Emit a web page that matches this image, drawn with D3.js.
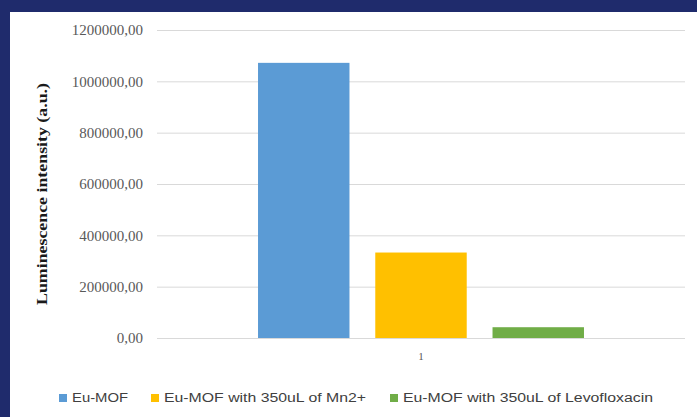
<!DOCTYPE html>
<html>
<head>
<meta charset="utf-8">
<script src="https://cdn.jsdelivr.net/npm/d3@7"></script>
<style>
  html, body { margin: 0; padding: 0; background: #ffffff; }
  svg { display: block; }
</style>
</head>
<body>
<svg id="chart" width="697" height="417"></svg>
<script>
// Luminescence of Eu-MOF alone and after adding Mn2+ / Levofloxacin
const categories = ["1"];
const seriesNames = [
  "Eu-MOF",
  "Eu-MOF with 350uL of Mn2+",
  "Eu-MOF with 350uL of Levofloxacin"
];
const seriesValues = [1072000, 333000, 42000];
const seriesColors = ["#5b9bd5", "#ffc000", "#70ad47"];
const yTicks = [0, 200000, 400000, 600000, 800000, 1000000, 1200000];
const yTickLabels = ["0,00", "200000,00", "400000,00", "600000,00", "800000,00", "1000000,00", "1200000,00"];
const yTitle = "Luminescence intensity (a.u.)";

const W = 697, H = 417;
const svg = d3.select("#chart");

// navy frame along the top and left edges
svg.append("rect").attr("x", 0).attr("y", 0).attr("width", W).attr("height", H).attr("fill", "#1f2b6c");
svg.append("rect").attr("x", 10).attr("y", 12).attr("width", W - 10).attr("height", H - 12).attr("fill", "#ffffff");

const plot = { left: 157, right: 685, top: 30, bottom: 338 };

const y = d3.scaleLinear().domain([0, 1200000]).range([plot.bottom, plot.top]);
const x0 = d3.scaleBand().domain(categories).range([plot.left, plot.right]).padding(0.2366);
const x1 = d3.scaleBand().domain(seriesNames).range([0, x0.bandwidth()]).paddingInner(0.22).paddingOuter(0);

// horizontal gridlines
const yAxis = d3.axisLeft(y)
  .tickValues(yTicks)
  .tickSize(-(plot.right - plot.left))
  .tickPadding(14)
  .tickFormat((d, i) => yTickLabels[i]);

const gy = svg.append("g").attr("transform", `translate(${plot.left},0)`).call(yAxis);
gy.select(".domain").remove();
gy.selectAll(".tick line").attr("stroke", "#d9d9d9").attr("stroke-width", 1);
gy.selectAll(".tick text")
  .attr("fill", "#595959")
  .style("font-family", "'Liberation Serif', 'DejaVu Serif', serif")
  .style("font-size", "15px");

// bars
const groups = svg.append("g").selectAll("g")
  .data(categories)
  .join("g")
  .attr("transform", d => `translate(${x0(d)},0)`);

groups.selectAll("rect")
  .data(() => seriesNames.map((s, i) => ({ name: s, value: seriesValues[i], color: seriesColors[i] })))
  .join("rect")
  .attr("x", d => x1(d.name))
  .attr("width", x1.bandwidth())
  .attr("y", d => y(d.value))
  .attr("height", d => y(0) - y(d.value))
  .attr("fill", d => d.color);

// category axis
const xAxis = d3.axisBottom(x0).tickSize(0).tickPadding(14);
const gx = svg.append("g").attr("transform", `translate(0,${plot.bottom})`).call(xAxis);
gx.select(".domain").remove();
gx.selectAll(".tick text")
  .attr("fill", "#595959")
  .style("font-family", "'Liberation Serif', serif")
  .style("font-size", "11px");

// y-axis title
svg.append("text")
  .attr("transform", `translate(47,${(plot.top + plot.bottom) / 2 + 10}) rotate(-90)`)
  .attr("text-anchor", "middle")
  .attr("textLength", 222)
  .attr("lengthAdjust", "spacingAndGlyphs")
  .style("font-family", "'Liberation Serif', serif")
  .style("font-weight", "bold")
  .style("font-size", "14px")
  .attr("fill", "#1a1a1a")
  .text(yTitle);

// legend
const legendX = [59, 151, 390];
const legendW = [56, 202, 250];
const legend = svg.append("g").attr("transform", "translate(0,398)");
seriesNames.forEach((name, i) => {
  legend.append("rect")
    .attr("x", legendX[i]).attr("y", -4)
    .attr("width", 8).attr("height", 8)
    .attr("fill", seriesColors[i]);
  legend.append("text")
    .attr("x", legendX[i] + 13).attr("y", 0)
    .attr("dy", "0.35em")
    .attr("textLength", legendW[i])
    .attr("lengthAdjust", "spacingAndGlyphs")
    .attr("fill", "#404040")
    .style("font-family", "'Liberation Sans', Arial, sans-serif")
    .style("font-size", "12px")
    .text(name);
});
</script>
</body>
</html>
